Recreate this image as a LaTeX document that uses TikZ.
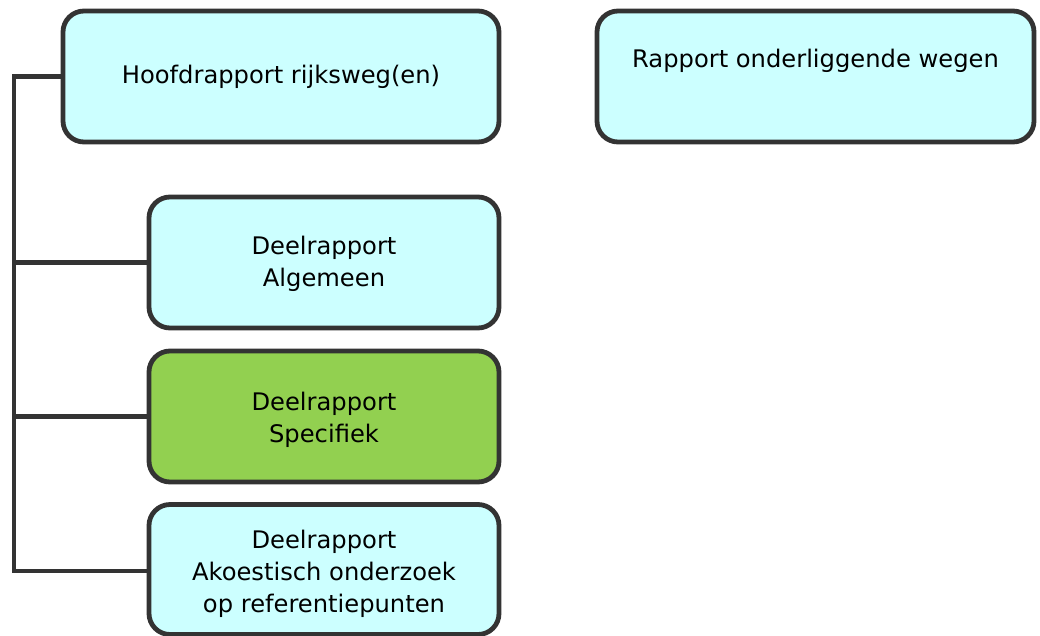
\documentclass[tikz,border=0pt]{standalone}
\usepackage{fontspec}
\setmainfont{DejaVu Sans}
\definecolor{boxcyan}{HTML}{CCFFFF}
\definecolor{boxgreen}{HTML}{92D050}
\definecolor{edge}{HTML}{333333}
\begin{document}
\begin{tikzpicture}[x=1pt,y=-1pt,
  box/.style={draw=edge, line width=4.8pt, rounded corners=21pt, fill=boxcyan,
    outer sep=0pt, inner sep=0pt, align=center,
    font=\fontsize{24.2}{32}\selectfont},
  txt/.style={inner sep=0pt, align=center, font=\fontsize{24.2}{32}\selectfont},
  conn/.style={draw=edge, line width=4.8pt, line join=miter}]
\useasboundingbox (0,0) rectangle (1040,635);
\node[box, minimum width=436pt, minimum height=131pt] (hoofd) at (281,76.5) {Hoofdrapport rijksweg(en)};
\node[box, minimum width=437pt, minimum height=131pt] (onder) at (815.5,76.5) {};
\node[txt] (ondertxt) at (815.5,61) {Rapport onderliggende wegen};
\node[box, minimum width=350pt, minimum height=131pt] (alg) at (324,262.5) {};
\node[txt] (algtxt) at (324,264) {Deelrapport\\Algemeen};
\node[box, fill=boxgreen, minimum width=350pt, minimum height=131pt] (spec) at (324,416.5) {};
\node[txt] (spectxt) at (324,420) {Deelrapport\\Specifiek};
\node[box, minimum width=350pt, minimum height=130pt] (akoe) at (324,569.5) {};
\node[txt] (akoetxt) at (324,573.5) {Deelrapport\\Akoestisch onderzoek\\op referentiepunten};
\coordinate (top) at (14,76.5);
\coordinate (bot) at (14,571);
\draw[conn] (hoofd.west) -- (top) -- (bot) -- (bot -| akoe.west);
\draw[conn] (alg.west) -- (alg.west -| top);
\draw[conn] (spec.west) -- (spec.west -| top);
\end{tikzpicture}
\end{document}
